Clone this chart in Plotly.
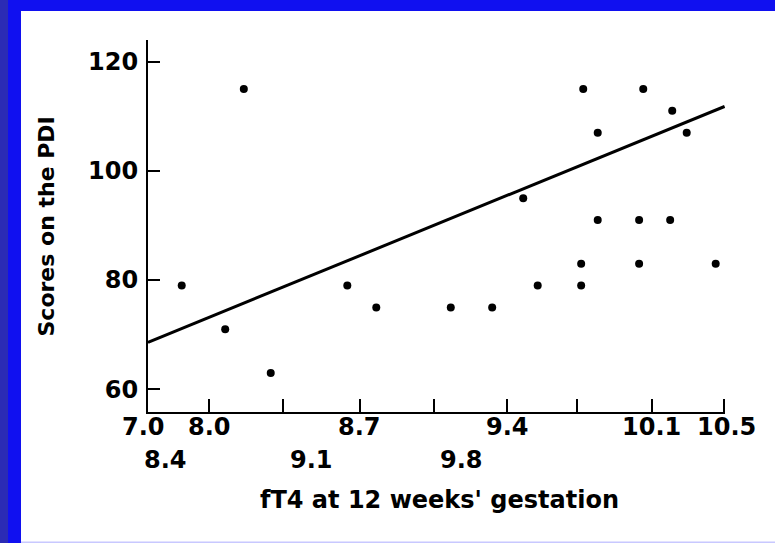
import plotly.graph_objects as go

# fT4 (x) and PDI score (y) for each child
ft4 = [7.85, 8.15, 8.06, 8.28, 8.65, 8.79, 9.15, 9.79, 10.08, 10.22, 9.86,
       10.29, 9.50, 9.86, 10.06, 10.21, 9.78, 10.06, 10.43, 9.57, 9.78, 9.35]
pdi = [79, 115, 71, 63, 79, 75, 75, 115, 115, 111, 107,
       107, 95, 91, 91, 91, 83, 83, 83, 79, 79, 75]

# regression line end points
fit_x = [7.687, 10.473]
fit_y = [68.6, 111.8]

# axis ticks
x_ticks = [7.98, 8.34, 8.71, 9.07, 9.42, 9.76, 10.12, 10.47]
y_ticks = [60, 80, 100, 120]
x_labels_row1 = ["7.0", "8.0", "8.7", "9.4", "10.1", "10.5"]
x_labels_row2 = ["8.4", "9.1", "9.8"]

W, H = 775, 543
L, R, T, B = 148, 50, 40, 131
PW, PH = W - L - R, H - T - B


def xp(px):
    return (px - L) / PW


def yp(py):
    return (H - B - py) / PH


FONT = "DejaVu Sans"
BLACK = "#000000"
TICK_FONT = dict(family=FONT, size=24, color=BLACK, weight="bold")

fig = go.Figure()
fig.add_trace(go.Scatter(x=fit_x, y=fit_y, mode="lines",
                         line=dict(color=BLACK, width=3), hoverinfo="skip"))
fig.add_trace(go.Scatter(x=ft4, y=pdi, mode="markers",
                         marker=dict(color=BLACK, size=8, line=dict(width=0))))

ann = []
row1_px = [143, 209, 359, 507, 651, 726]
row2_px = [165, 311, 461]
for txt, px in zip(x_labels_row1, row1_px):
    ann.append(dict(text=txt, x=xp(px), y=yp(427), xref="paper", yref="paper",
                    xanchor="center", yanchor="middle", showarrow=False,
                    font=TICK_FONT))
for txt, px in zip(x_labels_row2, row2_px):
    ann.append(dict(text=txt, x=xp(px), y=yp(460), xref="paper", yref="paper",
                    xanchor="center", yanchor="middle", showarrow=False,
                    font=TICK_FONT))
ann.append(dict(text="fT4 at 12 weeks' gestation", x=xp(439), y=yp(500),
                xref="paper", yref="paper", xanchor="center", yanchor="middle",
                showarrow=False,
                font=dict(family=FONT, size=24, color=BLACK, weight="bold")))
ann.append(dict(text="Scores on the PDI", x=xp(46), y=yp(226.5), textangle=-90,
                xref="paper", yref="paper", xanchor="center", yanchor="middle",
                showarrow=False,
                font=dict(family=FONT, size=22, color=BLACK, weight="bold")))

# blue frame around the white panel
BLUE = "#1010f0"
DARK = "#2b2bb5"
shapes = [
    dict(type="rect", xref="paper", yref="paper", x0=xp(0), x1=xp(W),
         y0=yp(11), y1=yp(0), fillcolor=BLUE, line=dict(width=0), layer="above"),
    dict(type="rect", xref="paper", yref="paper", x0=xp(0), x1=xp(21),
         y0=yp(H), y1=yp(0), fillcolor=BLUE, line=dict(width=0), layer="above"),
    dict(type="rect", xref="paper", yref="paper", x0=xp(0), x1=xp(8),
         y0=yp(H), y1=yp(0), fillcolor=DARK, line=dict(width=0), layer="above"),
    dict(type="rect", xref="paper", yref="paper", x0=xp(21), x1=xp(W),
         y0=yp(H), y1=yp(541.5), fillcolor="#c8c8ff", line=dict(width=0),
         layer="above"),
]

fig.update_layout(
    width=W, height=H,
    margin=dict(l=L, r=R, t=T, b=B, pad=0),
    paper_bgcolor="white", plot_bgcolor="white",
    showlegend=False,
    annotations=ann,
    shapes=shapes,
    xaxis=dict(range=[7.687, 10.475], tickvals=x_ticks, showticklabels=False,
               ticks="inside", ticklen=13, tickwidth=2, tickcolor=BLACK,
               showline=True, linecolor=BLACK, linewidth=2,
               showgrid=False, zeroline=False, fixedrange=True),
    yaxis=dict(range=[55.84, 123.97], tickvals=y_ticks,
               ticks="inside", ticklen=12, tickwidth=2, tickcolor=BLACK,
               ticklabelstandoff=3, tickfont=TICK_FONT,
               showline=True, linecolor=BLACK, linewidth=2,
               showgrid=False, zeroline=False, fixedrange=True),
)

fig.write_html("out.html")
